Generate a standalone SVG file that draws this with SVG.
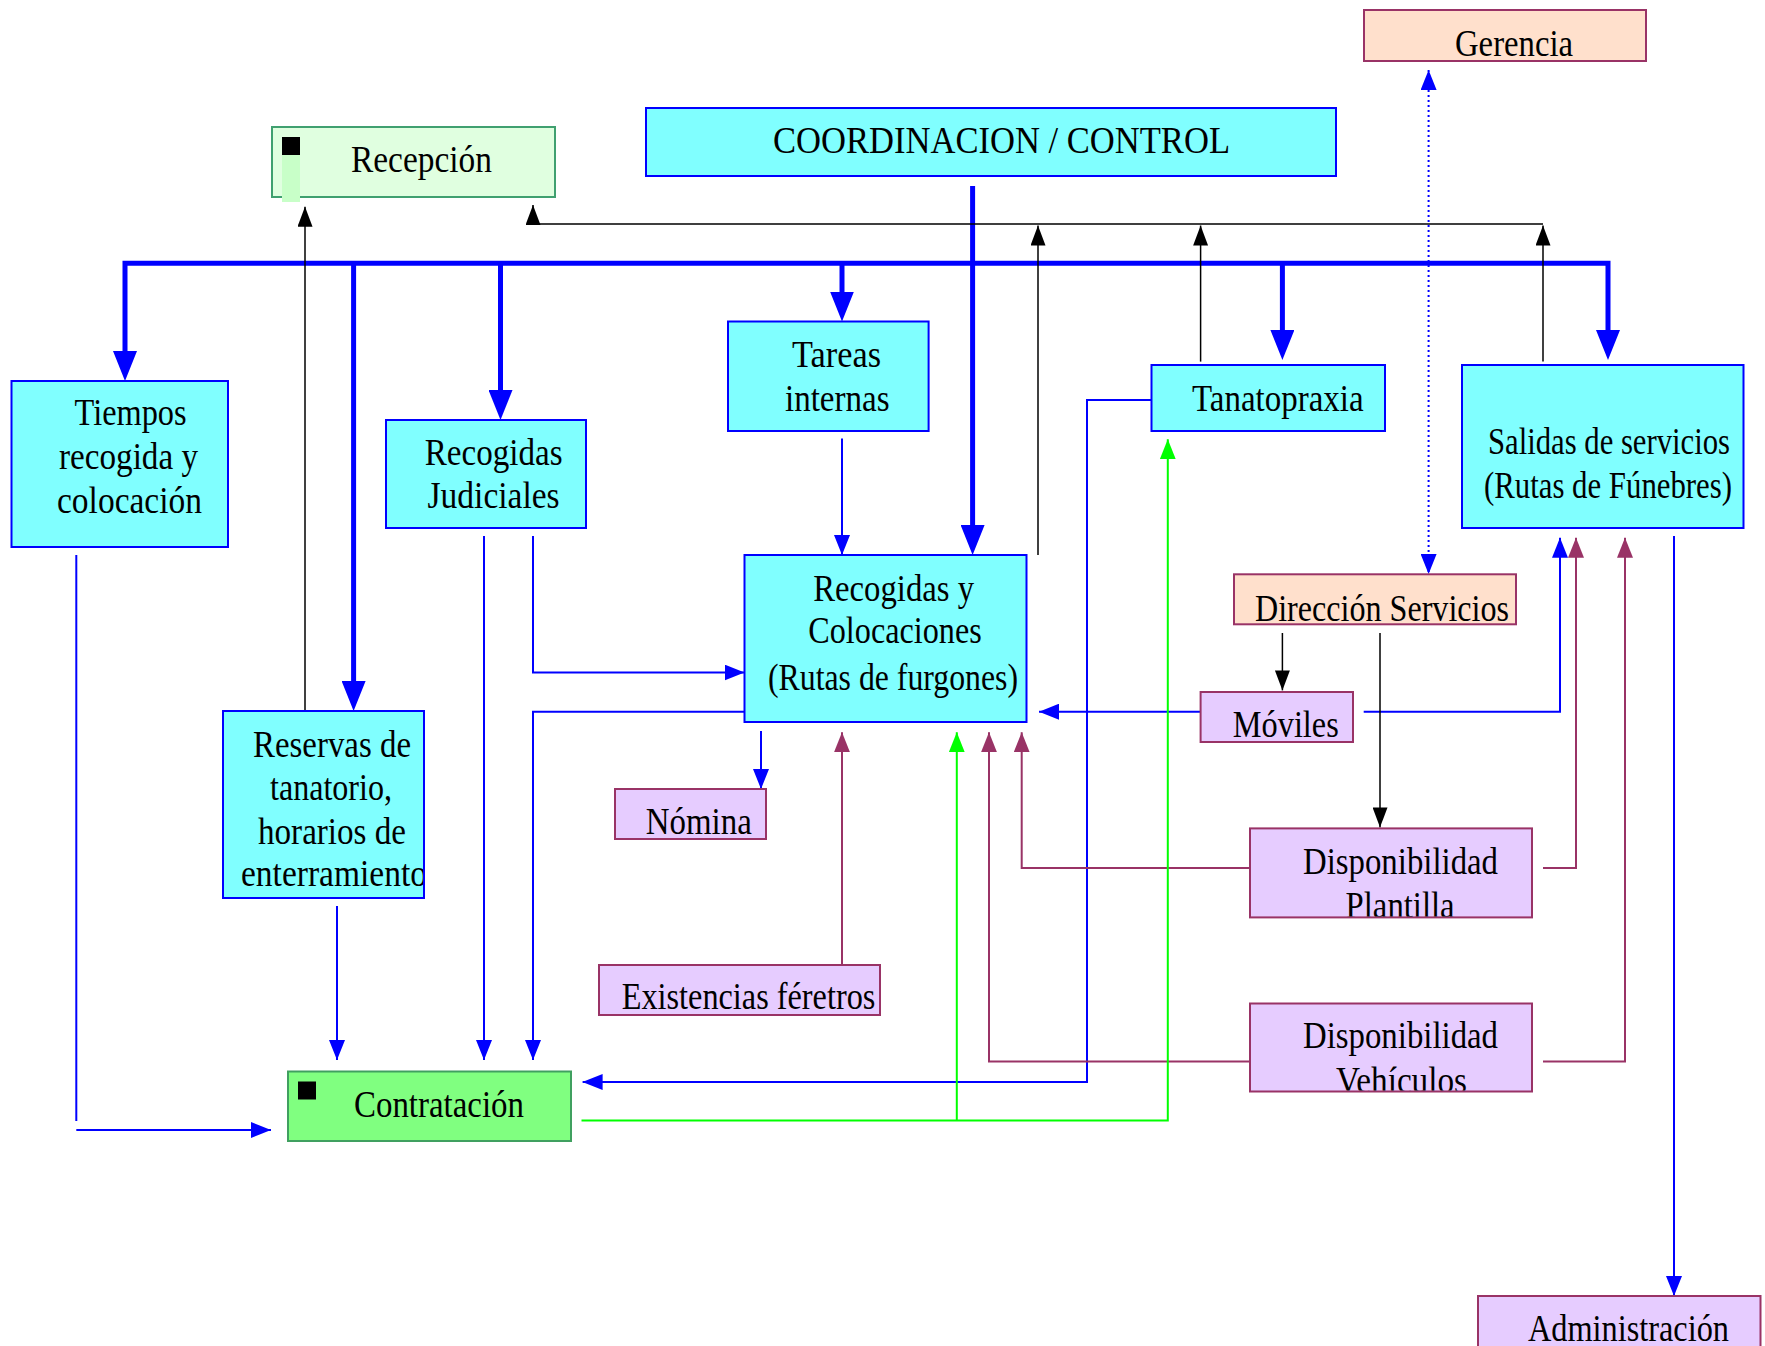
<svg xmlns="http://www.w3.org/2000/svg" width="1765" height="1346" viewBox="0 0 1765 1346">
<style>
.cy{fill:#80FFFF;stroke:#0000FF;stroke-width:2}
.pu{fill:#E6CCFF;stroke:#993366;stroke-width:2}
.pe{fill:#FFE0CC;stroke:#993366;stroke-width:2}
.gl{fill:#E0FFE0;stroke:#40A070;stroke-width:2}
.gr{fill:#80FF80;stroke:#40A060;stroke-width:2}
text{font-family:"Liberation Serif","Times New Roman",serif;font-size:38px;fill:#000}
.bt{fill:none;stroke:#0000FF;stroke-width:5}
.b{fill:none;stroke:#0000FF;stroke-width:2}
.k{fill:none;stroke:#000;stroke-width:1.5}
.p{fill:none;stroke:#993366;stroke-width:2}
.g{fill:none;stroke:#00FF00;stroke-width:2}
</style>
<defs>
<marker id="ab" viewBox="0 0 20 16" refX="20" refY="8" markerWidth="20" markerHeight="16" markerUnits="userSpaceOnUse" orient="auto-start-reverse"><path d="M0,0L20,8L0,16z" fill="#0000FF"/></marker>
<marker id="abT" viewBox="0 0 30 24" refX="15" refY="12" markerWidth="30" markerHeight="24" markerUnits="userSpaceOnUse" orient="auto-start-reverse"><path d="M0,0L30,12L0,24z" fill="#0000FF"/></marker>
<marker id="ak" viewBox="0 0 20 15" refX="20" refY="7.5" markerWidth="20" markerHeight="15" markerUnits="userSpaceOnUse" orient="auto"><path d="M0,0L20,7.5L0,15z" fill="#000"/></marker>
<marker id="ap" viewBox="0 0 20 16" refX="20" refY="8" markerWidth="20" markerHeight="16" markerUnits="userSpaceOnUse" orient="auto"><path d="M0,0L20,8L0,16z" fill="#993366"/></marker>
<marker id="ag" viewBox="0 0 20 16" refX="20" refY="8" markerWidth="20" markerHeight="16" markerUnits="userSpaceOnUse" orient="auto"><path d="M0,0L20,8L0,16z" fill="#00FF00"/></marker>
<clipPath id="cRes"><rect x="223" y="711" width="200" height="187"/></clipPath>
<clipPath id="cDP"><rect x="1250" y="828" width="282" height="88.5"/></clipPath>
<clipPath id="cDV"><rect x="1250" y="1003" width="282" height="87.5"/></clipPath>
</defs>
<rect width="1765" height="1346" fill="#FFFFFF"/>

<g id="connectors">
<path class="bt" d="M125,366 V263.3 H1608 V345" marker-start="url(#abT)" marker-end="url(#abT)"/>
<path class="bt" d="M353.6,263 V696" marker-end="url(#abT)"/>
<path class="bt" d="M500.5,263 V405" marker-end="url(#abT)"/>
<path class="bt" d="M842,263 V306.5" marker-end="url(#abT)"/>
<path class="bt" d="M1282.4,263 V345" marker-end="url(#abT)"/>
<path class="bt" d="M972.6,186 V540" marker-end="url(#abT)"/>
<path class="b" d="M842,438.6 V555" marker-end="url(#ab)"/>
<path class="b" d="M484,536 V1060" marker-end="url(#ab)"/>
<path class="b" d="M533,536 V672.5 H744.5" marker-end="url(#ab)"/>
<path class="b" d="M744.5,711.7 H533 V1060" marker-end="url(#ab)"/>
<path class="b" d="M337,906 V1060" marker-end="url(#ab)"/>
<path class="b" d="M76.3,555 V1121"/>
<path class="b" d="M76.3,1130 H271" marker-end="url(#ab)"/>
<path class="b" d="M761,731 V789" marker-end="url(#ab)"/>
<path class="b" d="M1200.6,711.7 H1039" marker-end="url(#ab)"/>
<path class="b" d="M1363.7,711.7 H1560 V537.7" marker-end="url(#ab)"/>
<path class="b" d="M1151.5,400 H1087 V1082 H582.6" stroke-width="1.6" marker-end="url(#ab)"/>
<path class="b" d="M1674,536 V1296" marker-end="url(#ab)"/>
<path class="b" d="M1428.6,70 V574" stroke-width="1.2" stroke-dasharray="2,3" marker-start="url(#ab)" marker-end="url(#ab)"/>
<path class="k" d="M305,711 V206.7" marker-end="url(#ak)"/>
<path class="k" d="M1543,224 H533 V205" marker-end="url(#ak)"/>
<path class="k" d="M1038,555 V225.5" marker-end="url(#ak)"/>
<path class="k" d="M1200.6,361.6 V225.5" marker-end="url(#ak)"/>
<path class="k" d="M1543,361.6 V225.5" marker-end="url(#ak)"/>
<path class="k" d="M1282.4,633 V690.4" marker-end="url(#ak)"/>
<path class="k" d="M1380,633 V827.4" marker-end="url(#ak)"/>
<path class="p" d="M842,965 V732.3" marker-end="url(#ap)"/>
<path class="p" d="M1250,868 H1021.7 V732.3" marker-end="url(#ap)"/>
<path class="p" d="M1250,1061.5 H989 V732.3" marker-end="url(#ap)"/>
<path class="p" d="M1543,868 H1576 V537.7" marker-end="url(#ap)"/>
<path class="p" d="M1543,1061.5 H1625 V537.7" marker-end="url(#ap)"/>
<path class="g" d="M581.5,1120.5 H1167.8 V439.3" marker-end="url(#ag)"/>
<path class="g" d="M956.8,1120.5 V732.3" marker-end="url(#ag)"/>
</g>

<g id="gerencia">
<rect class="pe" x="1364" y="10" width="282" height="51"/>
<text x="1455" y="55.5" textLength="118" lengthAdjust="spacingAndGlyphs">Gerencia</text>
</g>
<g id="coordinacion">
<rect class="cy" x="646" y="108" width="690" height="68"/>
<text x="773" y="153" font-size="36" textLength="457" lengthAdjust="spacingAndGlyphs">COORDINACION / CONTROL</text>
</g>
<g id="recepcion">
<rect class="gl" x="272" y="127" width="283" height="70"/>
<rect x="282" y="155" width="18" height="47" fill="#C8FFC8"/>
<rect x="282" y="137" width="18" height="18" fill="#000"/>
<text x="351" y="172" textLength="141" lengthAdjust="spacingAndGlyphs">Recepción</text>
</g>
<g id="tiempos">
<rect class="cy" x="11.5" y="381" width="216.5" height="166"/>
<text x="74.6" y="424.8" textLength="112" lengthAdjust="spacingAndGlyphs">Tiempos</text>
<text x="59" y="468.8" textLength="139" lengthAdjust="spacingAndGlyphs">recogida y</text>
<text x="57" y="512.8" textLength="145" lengthAdjust="spacingAndGlyphs">colocación</text>
</g>
<g id="judiciales">
<rect class="cy" x="386" y="420" width="200" height="108"/>
<text x="424.8" y="465" textLength="137.7" lengthAdjust="spacingAndGlyphs">Recogidas</text>
<text x="427.6" y="508" textLength="132" lengthAdjust="spacingAndGlyphs">Judiciales</text>
</g>
<g id="tareas">
<rect class="cy" x="728" y="321.5" width="200.6" height="109.5"/>
<text x="792" y="367.4" textLength="89" lengthAdjust="spacingAndGlyphs">Tareas</text>
<text x="785" y="411.4" textLength="104.5" lengthAdjust="spacingAndGlyphs">internas</text>
</g>
<g id="tanatopraxia">
<rect class="cy" x="1151.5" y="365" width="233.5" height="66"/>
<text x="1192" y="411" textLength="171.6" lengthAdjust="spacingAndGlyphs">Tanatopraxia</text>
</g>
<g id="salidas">
<rect class="cy" x="1462" y="365" width="281.5" height="163"/>
<text x="1609" y="453.5" font-size="32" text-anchor="middle" textLength="242" lengthAdjust="spacingAndGlyphs">Salidas de servicios</text>
<text x="1608" y="497.5" font-size="32" text-anchor="middle" textLength="248" lengthAdjust="spacingAndGlyphs">(Rutas de Fúnebres)</text>
</g>
<g id="recogidas-colocaciones">
<rect class="cy" x="744.5" y="555" width="282" height="167"/>
<text x="813.3" y="601" textLength="160.7" lengthAdjust="spacingAndGlyphs">Recogidas y</text>
<text x="808.3" y="643.3" textLength="173.4" lengthAdjust="spacingAndGlyphs">Colocaciones</text>
<text x="768" y="690" textLength="250" lengthAdjust="spacingAndGlyphs">(Rutas de furgones)</text>
</g>
<g id="direccion">
<rect class="pe" x="1234" y="574.3" width="282" height="50"/>
<text x="1255" y="621" font-size="40" textLength="254" lengthAdjust="spacingAndGlyphs">Dirección Servicios</text>
</g>
<g id="moviles">
<rect class="pu" x="1200.6" y="692" width="152.4" height="50"/>
<text x="1232.8" y="737" textLength="106" lengthAdjust="spacingAndGlyphs">Móviles</text>
</g>
<g id="reservas">
<rect class="cy" x="223" y="711" width="201" height="187"/>
<text x="253" y="757" textLength="158" lengthAdjust="spacingAndGlyphs">Reservas de</text>
<text x="270" y="800" textLength="122" lengthAdjust="spacingAndGlyphs">tanatorio,</text>
<text x="258" y="843.6" textLength="148" lengthAdjust="spacingAndGlyphs">horarios de</text>
<text x="241" y="886.4" textLength="186" lengthAdjust="spacingAndGlyphs" clip-path="url(#cRes)">enterramiento</text>
</g>
<g id="nomina">
<rect class="pu" x="615" y="789" width="151" height="50"/>
<text x="645.8" y="834" textLength="106" lengthAdjust="spacingAndGlyphs">Nómina</text>
</g>
<g id="disp-plantilla">
<rect class="pu" x="1250" y="828.4" width="282" height="89"/>
<text x="1303" y="873.6" textLength="195" lengthAdjust="spacingAndGlyphs">Disponibilidad</text>
<text x="1345.6" y="918" textLength="109" lengthAdjust="spacingAndGlyphs" clip-path="url(#cDP)">Plantilla</text>
</g>
<g id="existencias">
<rect class="pu" x="599" y="965" width="281" height="50"/>
<text x="621.7" y="1009" textLength="253.7" lengthAdjust="spacingAndGlyphs">Existencias féretros</text>
</g>
<g id="disp-vehiculos">
<rect class="pu" x="1250" y="1003.5" width="282" height="88"/>
<text x="1303" y="1048" textLength="195" lengthAdjust="spacingAndGlyphs">Disponibilidad</text>
<text x="1336" y="1093" textLength="131" lengthAdjust="spacingAndGlyphs" clip-path="url(#cDV)">Vehículos</text>
</g>
<g id="contratacion">
<rect class="gr" x="288" y="1071.5" width="283" height="69.5"/>
<rect x="298" y="1081.5" width="18" height="18" fill="#000"/>
<text x="354" y="1117" textLength="170" lengthAdjust="spacingAndGlyphs">Contratación</text>
</g>
<g id="administracion">
<rect class="pu" x="1478" y="1296" width="282.5" height="60"/>
<text x="1528" y="1341" textLength="201" lengthAdjust="spacingAndGlyphs">Administración</text>
</g>
</svg>
